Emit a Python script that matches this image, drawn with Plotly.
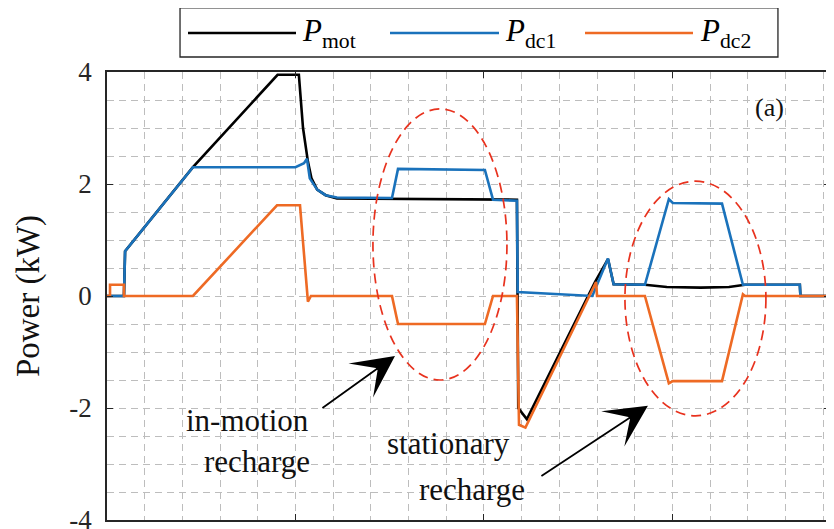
import plotly.graph_objects as go

# ---------------- data (time in s, power in kW) ----------------
t_mot = [0, 9.0, 9.6, 45.6, 90.5, 101.8, 104.0, 106.6, 108.5, 111.5, 116, 122,
         217.5, 218.2, 222.8, 258.9, 265.8, 268.8, 285.4, 297, 315, 330, 338.5,
         367.6, 367.9, 383.6]
p_mot = [0, 0, 0.8, 2.3, 3.95, 3.95, 3.0, 2.4, 2.1, 1.9, 1.8, 1.74,
         1.72, -2.0, -2.2, 0.25, 0.66, 0.21, 0.2, 0.16, 0.15, 0.16, 0.2,
         0.2, 0.0, 0.0]

t_dc1 = [0, 9.0, 9.6, 45.6, 100.0, 104.5, 106.1, 107.6, 111.5, 116, 122,
         151.2, 154.4, 200.5, 204.8, 217.5, 217.9, 257.5, 265.8, 268.8, 285.4,
         298.1, 300.2, 326.3, 337.4, 367.6, 367.9, 383.6]
p_dc1 = [0, 0, 0.8, 2.3, 2.3, 2.37, 2.45, 2.1, 1.9, 1.8, 1.76,
         1.75, 2.27, 2.25, 1.72, 1.7, 0.07, 0.0, 0.67, 0.21, 0.2,
         1.73, 1.66, 1.65, 0.2, 0.2, 0.0, 0.0]

t_dc2 = [0, 1.6, 1.6, 9.0, 9.0, 45.6, 90.2, 102.4, 106.6, 108.2, 151.2, 154.4,
         200.5, 204.8, 217.5, 218.6, 222.0, 259.5, 260.0, 285.4, 298.1, 300.2,
         326.3, 337.4, 338.5, 383.6]
p_dc2 = [0, 0, 0.2, 0.2, 0, 0, 1.62, 1.62, -0.1, 0, 0, -0.5,
         -0.5, 0, 0, -2.3, -2.35, 0.25, 0, 0, -1.56, -1.52,
         -1.52, 0.03, 0, 0]

y_tickvals = [-4, -2, 0, 2, 4]
y_ticktext = ["-4", "-2", "0", "2", "4"]

# highlight ellipses [x0, x1, y0, y1]
ellipse_motion = [141.1, 212.2, -1.5, 3.34]
ellipse_station = [274.8, 349.6, -2.14, 2.05]

C_MOT = "#000000"
C_DC1 = "#1a72bb"
C_DC2 = "#ee6a24"
AX = "#262626"
FONT = "Liberation Serif"

fig = go.Figure()
fig.add_trace(go.Scatter(x=t_mot, y=p_mot, mode="lines", name="P_mot",
                         line=dict(color=C_MOT, width=2.6)))
fig.add_trace(go.Scatter(x=t_dc1, y=p_dc1, mode="lines", name="P_dc1",
                         line=dict(color=C_DC1, width=2.6)))
fig.add_trace(go.Scatter(x=t_dc2, y=p_dc2, mode="lines", name="P_dc2",
                         line=dict(color=C_DC2, width=2.6)))

grid = dict(showgrid=True, gridcolor="#bdbdbd", gridwidth=1.1, griddash="7px,5px")

fig.update_xaxes(range=[0, 383.6], dtick=100, tick0=0, showticklabels=False,
                 ticks="inside", ticklen=6, tickwidth=1.3, tickcolor=AX,
                 showline=True, linecolor=AX, linewidth=1.6, mirror="ticks",
                 zeroline=False,
                 minor=dict(dtick=20, showgrid=True, gridcolor="#bdbdbd",
                            gridwidth=1.1, griddash="7px,5px"),
                 **grid)
fig.update_yaxes(range=[-4, 4], tickvals=y_tickvals, ticktext=y_ticktext,
                 ticks="inside", ticklen=6, tickwidth=1.3, tickcolor=AX,
                 showline=True, linecolor=AX, linewidth=1.6, mirror="ticks",
                 zeroline=False, ticklabelstandoff=8, ticklabeloverflow="allow",
                 tickfont=dict(family=FONT, size=27, color=AX),
                 title=dict(text="Power (kW)", standoff=20,
                            font=dict(family=FONT, size=33, color="#111111")),
                 minor=dict(dtick=0.5, showgrid=True, gridcolor="#bdbdbd",
                            gridwidth=1.1, griddash="7px,5px"),
                 **grid)

shapes = []
for e in (ellipse_motion, ellipse_station):
    shapes.append(dict(type="circle", xref="x", yref="y", x0=e[0], x1=e[1],
                       y0=e[2], y1=e[3], layer="above",
                       line=dict(color="#e8321e", width=1.7, dash="10px,6px")))

# custom legend (paper coords): box + sample lines
shapes.append(dict(type="rect", xref="paper", yref="paper", x0=0.101, x1=0.928,
                   y0=1.0335, y1=1.143, line=dict(color=AX, width=1.3),
                   fillcolor="white", layer="above"))
leg_y = 1.087
leg_items = [((188, 296), 300, C_MOT, "mot"),
             ((390, 499), 503, C_DC1, "dc1"),
             ((585, 693), 698, C_DC2, "dc2")]
annotations = []
for (lx0, lx1), tx, col, sub in leg_items:
    shapes.append(dict(type="line", xref="paper", yref="paper",
                       x0=(lx0 - 107) / 723, x1=(lx1 - 107) / 723,
                       y0=leg_y, y1=leg_y, line=dict(color=col, width=2.6),
                       layer="above"))
    annotations.append(dict(xref="paper", yref="paper", x=(tx - 107) / 723,
                            y=leg_y, xanchor="left", yanchor="middle",
                            showarrow=False,
                            text=f"<i>P</i><sub>{sub}</sub>",
                            font=dict(family=FONT, size=31, color="#000000")))

txt_font = dict(family=FONT, size=31, color="#111111")
annotations += [
    dict(x=351.7, y=3.36, xref="x", yref="y", text="(a)", showarrow=False,
         font=dict(family=FONT, size=26, color="#111111")),
    dict(x=74.3, y=-2.23, xref="x", yref="y", text="in-motion",
         showarrow=False, font=txt_font),
    dict(x=79.6, y=-2.95, xref="x", yref="y", text="recharge",
         showarrow=False, font=txt_font),
    dict(x=181.4, y=-2.63, xref="x", yref="y", text="stationary",
         showarrow=False, font=txt_font),
    dict(x=193.6, y=-3.45, xref="x", yref="y", text="recharge",
         showarrow=False, font=txt_font),
    dict(x=152.8, y=-1.07, ax=113.5, ay=-2.02, xref="x", yref="y",
         axref="x", ayref="y", text="", showarrow=True, arrowhead=3,
         arrowsize=3.9, arrowwidth=1.8, arrowcolor="#000000", standoff=0),
    dict(x=287.0, y=-1.96, ax=229.7, ay=-3.23, xref="x", yref="y",
         axref="x", ayref="y", text="", showarrow=True, arrowhead=3,
         arrowsize=3.9, arrowwidth=1.8, arrowcolor="#000000", standoff=0),
]

# page body has an 8px margin, so the figure is 8px smaller each way
fig.update_layout(width=826, height=521,
                  margin=dict(l=99, r=4, t=64, b=9, autoexpand=False),
                  plot_bgcolor="white", paper_bgcolor="white",
                  showlegend=False, shapes=shapes, annotations=annotations,
                  font=dict(family=FONT))

fig.write_html("out.html")
